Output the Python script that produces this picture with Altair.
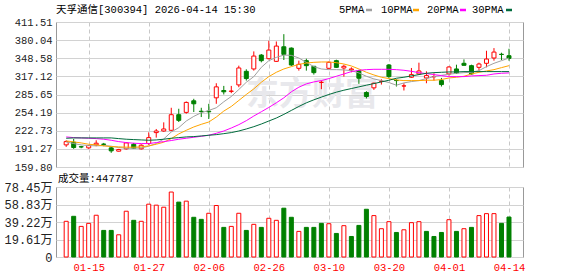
import json
import altair as alt
import pandas as pd

# ---------------- data ----------------
dates = ['01-12','01-13','01-14','01-15','01-16','01-19','01-20','01-21','01-22','01-23',
         '01-26','01-27','01-28','01-29','01-30','02-02','02-03','02-04','02-05','02-06',
         '02-09','02-10','02-11','02-12','02-13','02-24','02-25','02-26','02-27','03-02',
         '03-03','03-04','03-05','03-06','03-09','03-10','03-11','03-12','03-13','03-16',
         '03-17','03-18','03-19','03-20','03-23','03-24','03-25','03-26','03-27','03-30',
         '03-31','04-01','04-02','04-03','04-07','04-08','04-09','04-10','04-13','04-14']

open_ = [198.2, 202.8, 195.0, 193.0, 198.2, 199.6, 193.0, 187.3, 191.3, 199.3,
         191.3, 200.5, 219.5, 222.3, 223.5, 250.6, 254.6, 274.7, 256.6, 256.6,
         279.9, 292.6, 291.1, 302.3, 325.9, 330.0, 354.1, 347.8, 343.2, 368.5,
         366.2, 331.1, 344.4, 334.6, 306.6, 331.1, 344.4, 331.7, 328.3, 327.1,
         289.1, 297.2, 308.4, 336.9, 310.0, 300.4, 315.6, 321.3, 314.4, 316.5,
         309.8, 321.3, 330.0, 339.8, 335.7, 332.8, 339.8, 349.0, 355.5, 353.0]
high = [206.2, 208.5, 196.5, 198.2, 206.2, 201.6, 194.7, 191.3, 202.8, 201.6,
        199.3, 220.0, 225.8, 237.3, 262.6, 260.9, 273.6, 278.2, 262.6, 269.5,
        305.2, 300.6, 300.6, 335.7, 329.4, 360.5, 355.9, 378.9, 377.7, 390.4,
        367.4, 344.4, 347.8, 335.2, 309.8, 343.2, 346.1, 337.4, 332.8, 328.3,
        291.4, 306.4, 312.1, 338.6, 312.1, 305.2, 331.7, 340.9, 325.9, 322.5,
        314.4, 334.6, 337.4, 346.6, 337.4, 340.9, 361.6, 366.2, 358.2, 365.1]
low = [194.7, 191.3, 192.4, 191.3, 195.9, 195.9, 184.4, 186.7, 190.1, 191.3,
       190.1, 198.2, 210.8, 221.0, 222.3, 237.9, 252.3, 255.2, 246.5, 243.1,
       269.5, 285.7, 288.0, 298.3, 309.8, 327.1, 341.5, 346.6, 342.1, 345.5,
       335.2, 327.1, 327.1, 320.2, 294.9, 329.4, 331.7, 316.7, 324.2, 304.1,
       278.8, 293.7, 302.9, 314.4, 299.5, 292.6, 314.4, 319.6, 305.2, 309.8,
       299.5, 318.5, 321.3, 336.3, 320.2, 327.1, 332.8, 344.4, 345.5, 344.4]
close = [203.9, 193.6, 194.5, 197.0, 201.1, 199.0, 187.8, 190.1, 201.6, 192.4,
         197.6, 210.8, 222.3, 225.8, 250.6, 240.8, 271.9, 269.5, 256.0, 255.6,
         298.9, 290.3, 291.6, 331.7, 313.3, 352.4, 344.4, 362.8, 369.7, 355.3,
         336.9, 338.0, 335.7, 323.6, 306.9, 341.5, 332.8, 334.6, 330.0, 313.9,
         282.2, 305.2, 308.7, 316.7, 309.8, 300.6, 320.2, 326.5, 318.5, 316.7,
         302.9, 333.4, 323.1, 336.3, 321.3, 338.6, 347.2, 359.3, 355.1, 348.4]

# volume in 万 (10k lots)
vol = [40.0, 45.6, 34.3, 37.7, 46.8, 29.8, 29.8, 24.9, 51.3, 41.1,
       40.0, 59.2, 58.1, 55.8, 72.8, 61.5, 62.6, 44.5, 42.2, 49.0,
       57.7, 33.2, 34.3, 49.0, 29.8, 36.6, 33.2, 43.4, 41.1, 54.7,
       44.5, 28.7, 33.2, 33.2, 37.7, 37.3, 26.4, 35.1, 23.0, 35.4,
       53.5, 46.4, 31.7, 39.6, 27.5, 30.5, 38.5, 39.6, 28.7, 23.0,
       27.5, 41.8, 28.7, 31.7, 33.2, 46.4, 48.6, 48.6, 37.7, 44.7787]
vol_up = [1, 0, 1, 1, 1, 0, 0, 1, 1, 0,
          1, 1, 1, 1, 1, 0, 1, 0, 0, 1,
          1, 0, 1, 1, 0, 1, 0, 1, 1, 0,
          0, 1, 0, 0, 0, 1, 0, 1, 0, 0,
          0, 1, 1, 1, 0, 1, 1, 1, 0, 0,
          0, 1, 0, 1, 0, 1, 1, 1, 0, 0]

ma5 = [203.4, 200.5, 198.2, 197.0, 196.5, 197.0, 195.9, 193.6, 192.4, 192.4,
       193.0, 195.9, 200.5, 208.5, 220.6, 228.1, 239.6, 247.7, 254.0, 258.0,
       262.6, 273.0, 282.2, 294.3, 306.9, 316.7, 332.8, 344.4, 350.1, 354.1,
       353.6, 349.0, 341.5, 334.0, 330.0, 328.8, 328.8, 328.3, 327.1, 323.1,
       317.3, 312.7, 309.8, 306.4, 301.8, 305.8, 308.1, 309.8, 313.3, 316.7,
       319.0, 320.8, 322.5, 323.6, 324.2, 327.1, 334.0, 339.8, 344.4, 349.0]
ma10 = [205.1, 203.4, 201.6, 199.3, 198.2, 196.5, 195.3, 194.7, 194.2, 194.2,
        194.7, 196.5, 199.3, 202.8, 209.1, 217.2, 223.5, 229.3, 233.9, 237.9,
        246.5, 256.9, 264.9, 275.3, 285.7, 295.4, 306.9, 316.7, 324.2, 330.0,
        334.0, 338.0, 340.3, 341.5, 342.1, 342.1, 340.9, 338.6, 335.2, 330.0,
        324.2, 319.6, 315.6, 313.3, 311.0, 309.8, 309.8, 309.8, 310.4, 310.4,
        311.6, 314.4, 315.6, 317.3, 321.3, 324.2, 326.5, 328.8, 332.3, 335.7]
ma20 = [212.0, 210.8, 210.3, 209.7, 209.1, 208.0, 206.2, 203.9, 202.2, 201.1,
        200.5, 200.5, 202.2, 203.9, 205.7, 208.0, 209.7, 211.4, 213.1, 214.9,
        218.3, 222.3, 227.5, 233.3, 240.2, 248.3, 255.7, 263.2, 271.2, 279.9,
        290.3, 298.3, 304.1, 307.5, 309.8, 313.3, 317.3, 321.3, 325.4, 327.7,
        328.8, 329.4, 329.4, 329.4, 328.8, 327.7, 325.9, 323.6, 321.9, 320.2,
        318.5, 316.7, 316.7, 316.7, 317.9, 318.5, 319.0, 321.3, 322.5, 323.1]
ma30 = [209.7, 210.3, 210.3, 210.3, 210.3, 210.3, 210.3, 209.1, 208.0, 207.4,
        206.8, 206.2, 206.8, 208.0, 209.7, 210.8, 212.0, 212.6, 213.7, 214.9,
        216.0, 217.7, 219.5, 222.3, 225.8, 229.8, 234.4, 239.6, 244.8, 251.1,
        258.0, 264.9, 271.2, 276.4, 281.1, 285.7, 289.7, 293.1, 296.0, 298.9,
        301.8, 304.6, 307.5, 310.4, 313.9, 315.6, 317.9, 320.2, 322.5, 323.6,
        324.2, 324.8, 324.8, 325.4, 325.4, 325.4, 325.4, 325.4, 325.4, 325.4]

price_ticks = [159.80, 191.27, 222.73, 254.19, 285.65, 317.12, 348.58, 380.04, 411.51]
vol_ticks = [0, 19.61, 39.22, 58.83, 78.45]
date_ticks = ['01-15', '01-27', '02-06', '02-26', '03-10', '03-20', '04-01', '04-14']
title_text = "天孚通信[300394] 2026-04-14 15:30"
vol_text = "成交量:447787"
watermark_text = "东方财富"
legend_names = ['5PMA', '10PMA', '20PMA', '30PMA']

# ---------------- styling ----------------
RED = '#ff0000'
GREEN = '#008000'
MA_COLORS = ['#a0a0a0', '#ffa500', '#ff00ff', '#006b3c']
FONT = "'Liberation Mono', 'Noto Sans CJK SC'"
PW, PH, VH = 467, 145, 70

df = pd.DataFrame({
    'i': list(range(len(dates))), 'date': dates,
    'open': open_, 'high': high, 'low': low, 'close': close,
    'vol': vol, 'vol_up': vol_up,
    'ma5': ma5, 'ma10': ma10, 'ma20': ma20, 'ma30': ma30,
})

tick_idx = [dates.index(d) for d in date_ticks]
xscale = alt.Scale(domain=[-0.69, 60.2], nice=False, zero=False)

x_price_axis = alt.Axis(values=tick_idx, labels=False, ticks=False, domain=False, grid=True,
                        gridDash=[4, 3], gridColor='#c8c8c8', title=None, labelOverlap=False)
x_vol_axis = alt.Axis(values=tick_idx, labelExpr=f"{json.dumps(dates)}[datum.value]",
                      ticks=False, domain=False, grid=True, gridDash=[4, 3],
                      gridColor='#c8c8c8', title=None, labelColor=RED, labelFontSize=10.5,
                      labelFont=FONT, labelPadding=5, labelOverlap=False)

pscale = alt.Scale(domain=[price_ticks[0], price_ticks[-1]], nice=False, zero=False)
y_price_axis = alt.Axis(values=price_ticks, format='.2f', grid=True, gridColor='#d2d2d2',
                        ticks=False, domain=False, labelPadding=4, title=None,
                        labelFontSize=10.5, labelColor='#222222', labelFont=FONT,
                        labelOverlap=False)

vscale = alt.Scale(domain=[0, vol_ticks[-1]], nice=False, zero=True)
y_vol_axis = alt.Axis(values=vol_ticks,
                      labelExpr="datum.value == 0 ? '0' : format(datum.value, '.2f') + '万'",
                      grid=True, gridColor='#d2d2d2', ticks=False, domain=False,
                      labelPadding=4, title=None, labelFontSize=12, labelColor='#222222',
                      labelFont=FONT, labelOverlap=False)


def px(axis):
    return alt.X('i:Q', scale=xscale, axis=axis)


def py(field):
    return alt.Y(f'{field}:Q', scale=pscale, axis=y_price_axis)


def vy(field):
    return alt.Y(f'{field}:Q', scale=vscale, axis=y_vol_axis, stack=None)


base = alt.Chart(df)
up = alt.datum.close >= alt.datum.open
down = alt.datum.close < alt.datum.open

anchor = alt.Chart(pd.DataFrame({'a': [0]})).mark_rule(color='white', strokeWidth=0.01).encode(
    x=alt.value(-55), x2=alt.value(-55), y=alt.value(-21), y2=alt.value(-21))

watermark = alt.Chart(pd.DataFrame({'t': [watermark_text]})).mark_text(
    align='left', baseline='middle', fontSize=33, fontWeight='bold',
    font='Noto Sans CJK SC', color='#e8e8ec').encode(
    text='t:N', x=alt.value(190), y=alt.value(73))

wick_up = base.transform_filter(up).mark_rule(color=RED, strokeWidth=1).encode(
    x=px(x_price_axis), y=py('low'), y2='high:Q')
wick_dn = base.transform_filter(down).mark_rule(color=GREEN, strokeWidth=1).encode(
    x=px(x_price_axis), y=py('low'), y2='high:Q')
body_up = base.transform_filter(up).mark_bar(size=4, fill='white', stroke=RED, strokeWidth=1).encode(
    x=px(x_price_axis), y=py('open'), y2='close:Q')
body_dn = base.transform_filter(down).mark_bar(size=4, fill=GREEN, stroke=GREEN, strokeWidth=1).encode(
    x=px(x_price_axis), y=py('open'), y2='close:Q')

ma_layers = []
for name, col in zip(['ma5', 'ma10', 'ma20', 'ma30'], MA_COLORS):
    ma_layers.append(base.mark_line(color=col, strokeWidth=1).encode(
        x=px(x_price_axis), y=py(name)))

title = alt.Chart(pd.DataFrame({'t': [title_text]})).mark_text(
    align='left', baseline='middle', fontSize=10.5, font=FONT, color='#000000').encode(
    text='t:N', x=alt.value(0), y=alt.value(-12.5))

legend_text_x = [283, 325, 371, 416]
legend_sw_x = [310, 357, 404, 450]
legend_layers = []
for name, col, tx, sx in zip(legend_names, MA_COLORS, legend_text_x, legend_sw_x):
    d = pd.DataFrame({'t': [name]})
    legend_layers.append(alt.Chart(d).mark_text(
        align='left', baseline='middle', fontSize=10.5, font=FONT, color='#000000').encode(
        text='t:N', x=alt.value(tx), y=alt.value(-12.5)))
    legend_layers.append(alt.Chart(d).mark_rule(color=col, strokeWidth=2.5).encode(
        x=alt.value(sx), x2=alt.value(sx + 6), y=alt.value(-12), y2=alt.value(-12)))

price = alt.layer(anchor, watermark, wick_up, wick_dn, body_up, body_dn,
                  *ma_layers, title, *legend_layers).properties(width=PW, height=PH)

# ---------------- volume panel ----------------
vol_up_bars = base.transform_filter(alt.datum.vol_up == 1).mark_bar(
    size=4, fill='white', stroke=RED, strokeWidth=1).encode(
    x=px(x_vol_axis), y=vy('vol'))
vol_dn_bars = base.transform_filter(alt.datum.vol_up == 0).mark_bar(
    size=4, fill=GREEN, stroke=GREEN, strokeWidth=1).encode(
    x=px(x_vol_axis), y=vy('vol'))
vol_label = alt.Chart(pd.DataFrame({'t': [vol_text]})).mark_text(
    align='left', baseline='middle', fontSize=10.5, font=FONT, color='#000000').encode(
    text='t:N', x=alt.value(2), y=alt.value(-8.5))

volume = alt.layer(vol_up_bars, vol_dn_bars, vol_label).properties(width=PW, height=VH)

chart = alt.vconcat(price, volume, spacing=20, bounds='flush').properties(
    padding={'left': 0, 'top': 0, 'right': 0, 'bottom': 0},
    background='white'
).configure_view(stroke='#999999', strokeWidth=1).configure_axis(labelFont=FONT)

chart.save("out.html", embed_options={"renderer": "svg", "actions": False})
